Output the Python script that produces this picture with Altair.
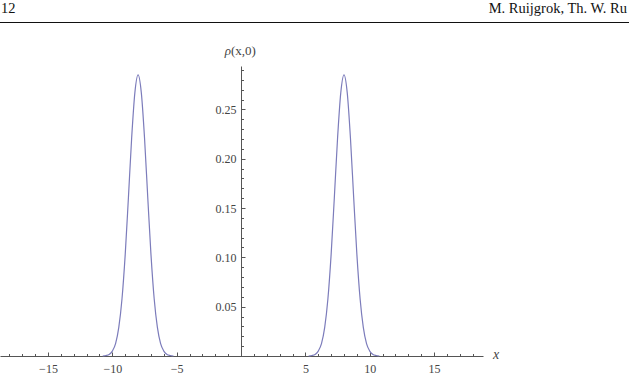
import altair as alt
import pandas as pd

# Curve (two peaks of rho(x,0))
left_x = [-10.75, -10.5, -10.25, -10.0, -9.75, -9.5, -9.25, -9.0, -8.75, -8.5, -8.25, -8.0,
          -7.75, -7.5, -7.25, -7.0, -6.75, -6.5, -6.25, -6.0, -5.75, -5.5, -5.25]
right_x = [5.25, 5.5, 5.75, 6.0, 6.25, 6.5, 6.75, 7.0, 7.25, 7.5, 7.75, 8.0,
           8.25, 8.5, 8.75, 9.0, 9.25, 9.5, 9.75, 10.0, 10.25, 10.5, 10.75]
peak_y = [0.0, 0.0005, 0.0016, 0.005, 0.0125, 0.029, 0.058, 0.103, 0.161, 0.221, 0.267, 0.285,
          0.267, 0.221, 0.161, 0.103, 0.058, 0.029, 0.0125, 0.005, 0.0016, 0.0005, 0.0]

x_labels = [-15, -10, -5, 5, 10, 15]
y_labels = [0.05, 0.10, 0.15, 0.20, 0.25]
x_minor = [v for v in range(-18, 19) if v != 0]
y_minor = [0.01, 0.02, 0.03, 0.04, 0.05, 0.06, 0.07, 0.08, 0.09, 0.10, 0.11, 0.12, 0.13, 0.14, 0.15,
           0.16, 0.17, 0.18, 0.19, 0.20, 0.21, 0.22, 0.23, 0.24, 0.25, 0.26, 0.27, 0.28, 0.29]

df = pd.DataFrame({
    "x": left_x + right_x,
    "rho": peak_y + peak_y,
    "peak": ["left"] * len(left_x) + ["right"] * len(right_x),
})

W, H = 483, 290
X0 = 241  # pixel position of x = 0
XDOM = [-18.73, 18.8]
YDOM = [0, 0.294]
AX = "#555555"
LAB = "#444444"
SERIF = "Liberation Serif"

xs = alt.Scale(domain=XDOM, nice=False, zero=False)
ys = alt.Scale(domain=YDOM, nice=False, zero=False)

# Layer with labels + axis lines
labels_layer = alt.Chart(df).mark_line(opacity=0).encode(
    x=alt.X("x:Q", scale=xs, axis=alt.Axis(
        orient="bottom", values=x_labels, ticks=False, domain=True, domainColor=AX,
        domainWidth=1, labelFont=SERIF, labelFontSize=12, labelColor=LAB,
        labelPadding=7, grid=False, title=None)),
    y=alt.Y("rho:Q", scale=ys, axis=alt.Axis(
        orient="left", offset=-X0, values=y_labels, format=".2f", ticks=False,
        domain=True, domainColor=AX, domainWidth=1, labelFont=SERIF, labelFontSize=12,
        labelColor=LAB, labelPadding=5, grid=False, title=None)),
    detail="peak:N",
)

# Layer with the curve and inward tick marks
curve_layer = alt.Chart(df).mark_line(color="#7c7cbb", strokeWidth=1.2, interpolate="monotone").encode(
    x=alt.X("x:Q", scale=xs, axis=alt.Axis(
        orient="top", offset=-H, values=x_minor, labels=False, domain=False,
        ticks=True, tickColor=AX, tickWidth=1,
        tickSize={"condition": {"test": "datum.value % 5 === 0", "value": 4}, "value": 2.5},
        grid=False, title=None)),
    y=alt.Y("rho:Q", scale=ys, axis=alt.Axis(
        orient="right", offset=-(W - X0), values=y_minor, labels=False, domain=False,
        ticks=True, tickColor=AX, tickWidth=1,
        tickSize={"condition": {"test": "abs(datum.value*20 - round(datum.value*20)) < 0.001",
                                "value": 4}, "value": 2.5},
        grid=False, title=None)),
    detail="peak:N",
)

one = pd.DataFrame({"t": ["12"]})

page_num = alt.Chart(pd.DataFrame({"t": ["12"]})).mark_text(
    font=SERIF, fontSize=14.5, color="#111111", align="left", baseline="alphabetic"
).encode(text="t:N", x=alt.value(1), y=alt.value(13 - 66))

authors = alt.Chart(pd.DataFrame({"t": ["M. Ruijgrok, Th. W. Ru"]})).mark_text(
    font=SERIF, fontSize=14.5, color="#111111", align="right", baseline="alphabetic"
).encode(text="t:N", x=alt.value(627), y=alt.value(13 - 66))

header_rule = alt.Chart(one).mark_rule(color="#111111", strokeWidth=1.2).encode(
    x=alt.value(0), x2=alt.value(629), y=alt.value(22.5 - 66))

rho_sym = alt.Chart(pd.DataFrame({"t": ["ρ"]})).mark_text(
    font=SERIF, fontSize=13, fontStyle="italic", color=LAB, align="right", baseline="middle"
).encode(text="t:N", x=alt.value(231), y=alt.value(51 - 66))

rho_args = alt.Chart(pd.DataFrame({"t": ["(x,0)"]})).mark_text(
    font=SERIF, fontSize=13, color=LAB, align="left", baseline="middle"
).encode(text="t:N", x=alt.value(231), y=alt.value(51 - 66))

x_title = alt.Chart(pd.DataFrame({"t": ["x"]})).mark_text(
    font=SERIF, fontSize=14, fontStyle="italic", color=LAB, align="left", baseline="middle"
).encode(text="t:N", x=alt.value(493), y=alt.value(H - 1))

chart = alt.layer(
    labels_layer, curve_layer, page_num, authors, header_rule, rho_sym, rho_args, x_title
).resolve_axis(x="independent", y="independent").properties(
    width=W, height=H,
    padding={"left": 0, "top": 66, "right": 629 - W, "bottom": 384 - 66 - H},
    autosize="none",
).configure_view(stroke=None)

chart.save("out.html", embed_options={"renderer": "svg", "actions": False})
